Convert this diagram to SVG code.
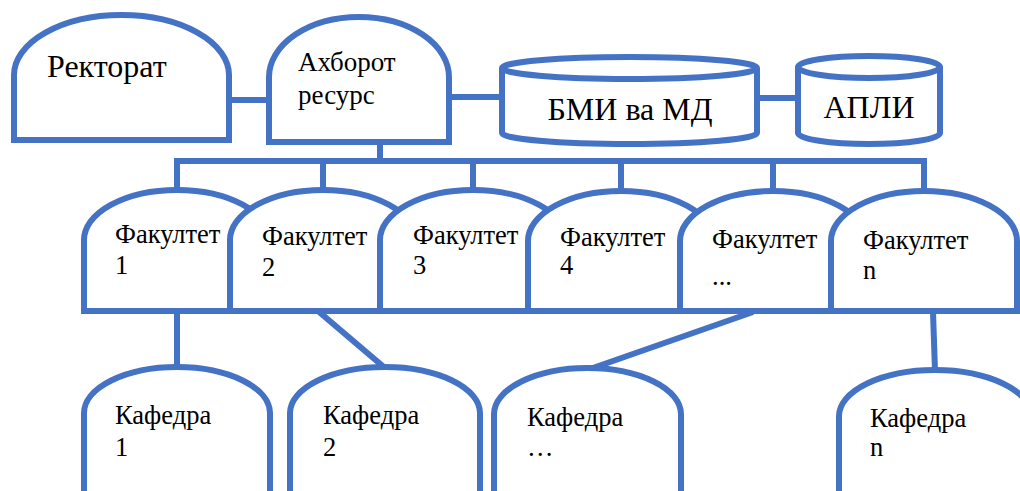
<svg xmlns="http://www.w3.org/2000/svg" width="1020" height="491" viewBox="0 0 1020 491">
<style>
.s{fill:#fff;stroke:#4472C4;stroke-width:6;stroke-linejoin:miter}
.l{fill:none;stroke:#4472C4;stroke-width:6}
.tx{font-family:"Liberation Serif","Liberation Sans",serif;fill:#000}
.t25{font-size:26.5px}
.t27{font-size:27px}
.t31{font-size:32px}
.t32{font-size:32px}
</style>
<rect width="1020" height="491" fill="#fff"/>
<g id="connectors">
<line class="l" x1="229" y1="100" x2="269" y2="100"/>
<line class="l" x1="449" y1="97" x2="502" y2="97"/>
<line class="l" x1="757" y1="98" x2="798" y2="98"/>
<line class="l" x1="380" y1="142" x2="380" y2="161"/>
<path class="l" d="M177,192 V161 H924 V192"/>
<line class="l" x1="323" y1="161" x2="323" y2="192"/>
<line class="l" x1="473" y1="161" x2="473" y2="192"/>
<line class="l" x1="621" y1="161" x2="621" y2="192"/>
<line class="l" x1="773" y1="161" x2="773" y2="192"/>
<line class="l" x1="177" y1="311" x2="177" y2="368"/>
<line class="l" x1="318" y1="311" x2="385" y2="368"/>
<line class="l" x1="753" y1="312" x2="590" y2="369"/>
<line class="l" x1="933" y1="312" x2="935" y2="371"/>
</g>
<g id="rektorat">
<path class="s" d="M14,140 V75 A107.5,60 0 0 1 229,75 V140 Z"/>
<text class="tx t31" x="47" y="77">Ректорат</text>
</g>
<g id="axborot">
<path class="s" d="M269,142 V77 A90,60 0 0 1 449,77 V142 Z"/>
<text class="tx t27" x="298" y="71">Ахборот</text>
<text class="tx t27" x="298" y="104">ресурс</text>
</g>
<g id="bmi">
<path class="s" d="M502,68 A127.5,11 0 0 1 757,68 V133 A127.5,11 0 0 1 502,133 Z"/>
<path class="l" d="M502,68 A127.5,11 0 0 0 757,68"/>
<text class="tx t32" x="630" y="120" text-anchor="middle">БМИ ва МД</text>
</g>
<g id="apli">
<path class="s" d="M798,67 A71,11 0 0 1 940,67 V133 A71,11 0 0 1 798,133 Z"/>
<path class="l" d="M798,67 A71,11 0 0 0 940,67"/>
<text class="tx t32" x="869" y="118" text-anchor="middle">АПЛИ</text>
</g>
<g id="fak1">
<path class="s" d="M84,311 V240 A93,50 0 0 1 270,240 V311 Z"/>
<text class="tx t25" x="115" y="243">Факултет</text>
<text class="tx t25" x="115" y="274">1</text>
</g>
<g id="fak2">
<path class="s" d="M230,311 V240 A93,50 0 0 1 416,240 V311 Z"/>
<text class="tx t25" x="262" y="245">Факултет</text>
<text class="tx t25" x="262" y="276">2</text>
</g>
<g id="fak3">
<path class="s" d="M380,311 V240 A93,50 0 0 1 566,240 V311 Z"/>
<text class="tx t25" x="413" y="244">Факултет</text>
<text class="tx t25" x="413" y="274">3</text>
</g>
<g id="fak4">
<path class="s" d="M528,311 V241 A93,50 0 0 1 714,241 V311 Z"/>
<text class="tx t25" x="560" y="246">Факултет</text>
<text class="tx t25" x="560" y="274">4</text>
</g>
<g id="fak5">
<path class="s" d="M680,311 V241 A93,50 0 0 1 866,241 V311 Z"/>
<text class="tx t25" x="712" y="248">Факултет</text>
<text class="tx t25" x="712" y="285">...</text>
</g>
<g id="fakn">
<path class="s" d="M831,311 V241 A93,50 0 0 1 1017,241 V311 Z"/>
<text class="tx t25" x="863" y="249">Факултет</text>
<text class="tx t25" x="863" y="279">n</text>
</g>
<g id="kaf1">
<path class="s" d="M84,494 V413 A93,46 0 0 1 270,413 V494 Z"/>
<text class="tx t25" x="115" y="424">Кафедра</text>
<text class="tx t25" x="115" y="456">1</text>
</g>
<g id="kaf2">
<path class="s" d="M290,494 V413 A95,46 0 0 1 480,413 V494 Z"/>
<text class="tx t25" x="323" y="424">Кафедра</text>
<text class="tx t25" x="323" y="456">2</text>
</g>
<g id="kaf3">
<path class="s" d="M494,494 V414 A93.5,46 0 0 1 681,414 V494 Z"/>
<text class="tx t25" x="527" y="426">Кафедра</text>
<text class="tx t25" x="527" y="456">…</text>
</g>
<g id="kafn">
<path class="s" d="M839,494 V416 A96,46 0 0 1 1031,416 V494 Z"/>
<text class="tx t25" x="870" y="427">Кафедра</text>
<text class="tx t25" x="870" y="456">n</text>
</g>
</svg>
